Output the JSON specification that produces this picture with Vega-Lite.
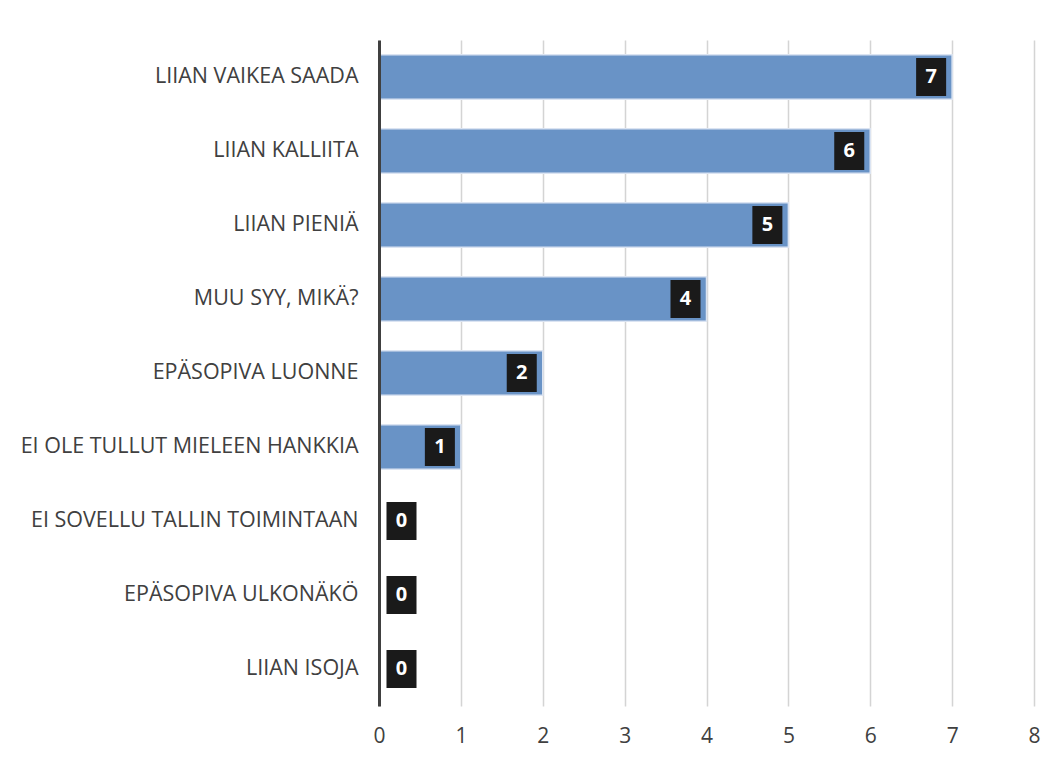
{
  "$schema": "https://vega.github.io/schema/vega-lite/v6.json",
  "autosize": {"type": "none"},
  "width": 655,
  "height": 666,
  "padding": {"left": 379, "top": 40, "right": 28, "bottom": 54},
  "background": "white",
  "config": {
    "view": {"stroke": null},
    "font": "Open Sans"
  },
  "data": {
    "values": [
      {"syy": "LIIAN VAIKEA SAADA", "n": 7},
      {"syy": "LIIAN KALLIITA", "n": 6},
      {"syy": "LIIAN PIENIÄ", "n": 5},
      {"syy": "MUU SYY, MIKÄ?", "n": 4},
      {"syy": "EPÄSOPIVA LUONNE", "n": 2},
      {"syy": "EI OLE TULLUT MIELEEN HANKKIA", "n": 1},
      {"syy": "EI SOVELLU TALLIN TOIMINTAAN", "n": 0},
      {"syy": "EPÄSOPIVA ULKONÄKÖ", "n": 0},
      {"syy": "LIIAN ISOJA", "n": 0}
    ]
  },
  "encoding": {
    "y": {
      "field": "syy", "type": "nominal", "sort": null, "title": null,
      "scale": {"paddingInner": 0.4, "paddingOuter": 0.2},
      "axis": {
        "domainColor": "#404040", "domainWidth": 3, "ticks": false,
        "labelFontSize": 21.5, "labelColor": "#404040", "labelPadding": 21,
        "labelFont": "Open Sans", "labelLimit": 0, "grid": false, "zindex": 2
      }
    }
  },
  "layer": [
    {
      "mark": {"type": "bar", "color": "#6993c6", "stroke": "#dbe4f2", "strokeWidth": 1.5},
      "encoding": {
        "x": {
          "field": "n", "type": "quantitative", "title": null,
          "scale": {"domain": [0, 8], "nice": false},
          "axis": {
            "values": [0, 1, 2, 3, 4, 5, 6, 7, 8], "format": "d", "domain": false, "ticks": false,
            "grid": true, "gridColor": "#d4d4d4", "gridWidth": 1.5, "labelFlush": false,
            "labelFontSize": 21, "labelColor": "#404040", "labelPadding": 19,
            "labelFont": "Open Sans"
          }
        }
      }
    },
    {
      "transform": [{"filter": "datum.n > 0"}],
      "mark": {"type": "point", "shape": "M-0.79,-1L0.79,-1L0.79,1L-0.79,1Z", "size": 1444, "filled": true, "color": "#1a1a1a", "opacity": 1, "xOffset": -21},
      "encoding": {"x": {"field": "n", "type": "quantitative"}}
    },
    {
      "transform": [{"filter": "datum.n > 0"}],
      "mark": {"type": "text", "color": "white", "fontWeight": "bold", "fontSize": 20, "font": "Open Sans", "xOffset": -21, "baseline": "middle", "align": "center"},
      "encoding": {"x": {"field": "n", "type": "quantitative"}, "text": {"field": "n"}}
    },
    {
      "transform": [{"filter": "datum.n == 0"}],
      "mark": {"type": "point", "shape": "M-0.79,-1L0.79,-1L0.79,1L-0.79,1Z", "size": 1444, "filled": true, "color": "#1a1a1a", "opacity": 1, "xOffset": 22.5},
      "encoding": {"x": {"field": "n", "type": "quantitative"}}
    },
    {
      "transform": [{"filter": "datum.n == 0"}],
      "mark": {"type": "text", "color": "white", "fontWeight": "bold", "fontSize": 20, "font": "Open Sans", "xOffset": 22.5, "baseline": "middle", "align": "center"},
      "encoding": {"x": {"field": "n", "type": "quantitative"}, "text": {"field": "n"}}
    }
  ]
}
